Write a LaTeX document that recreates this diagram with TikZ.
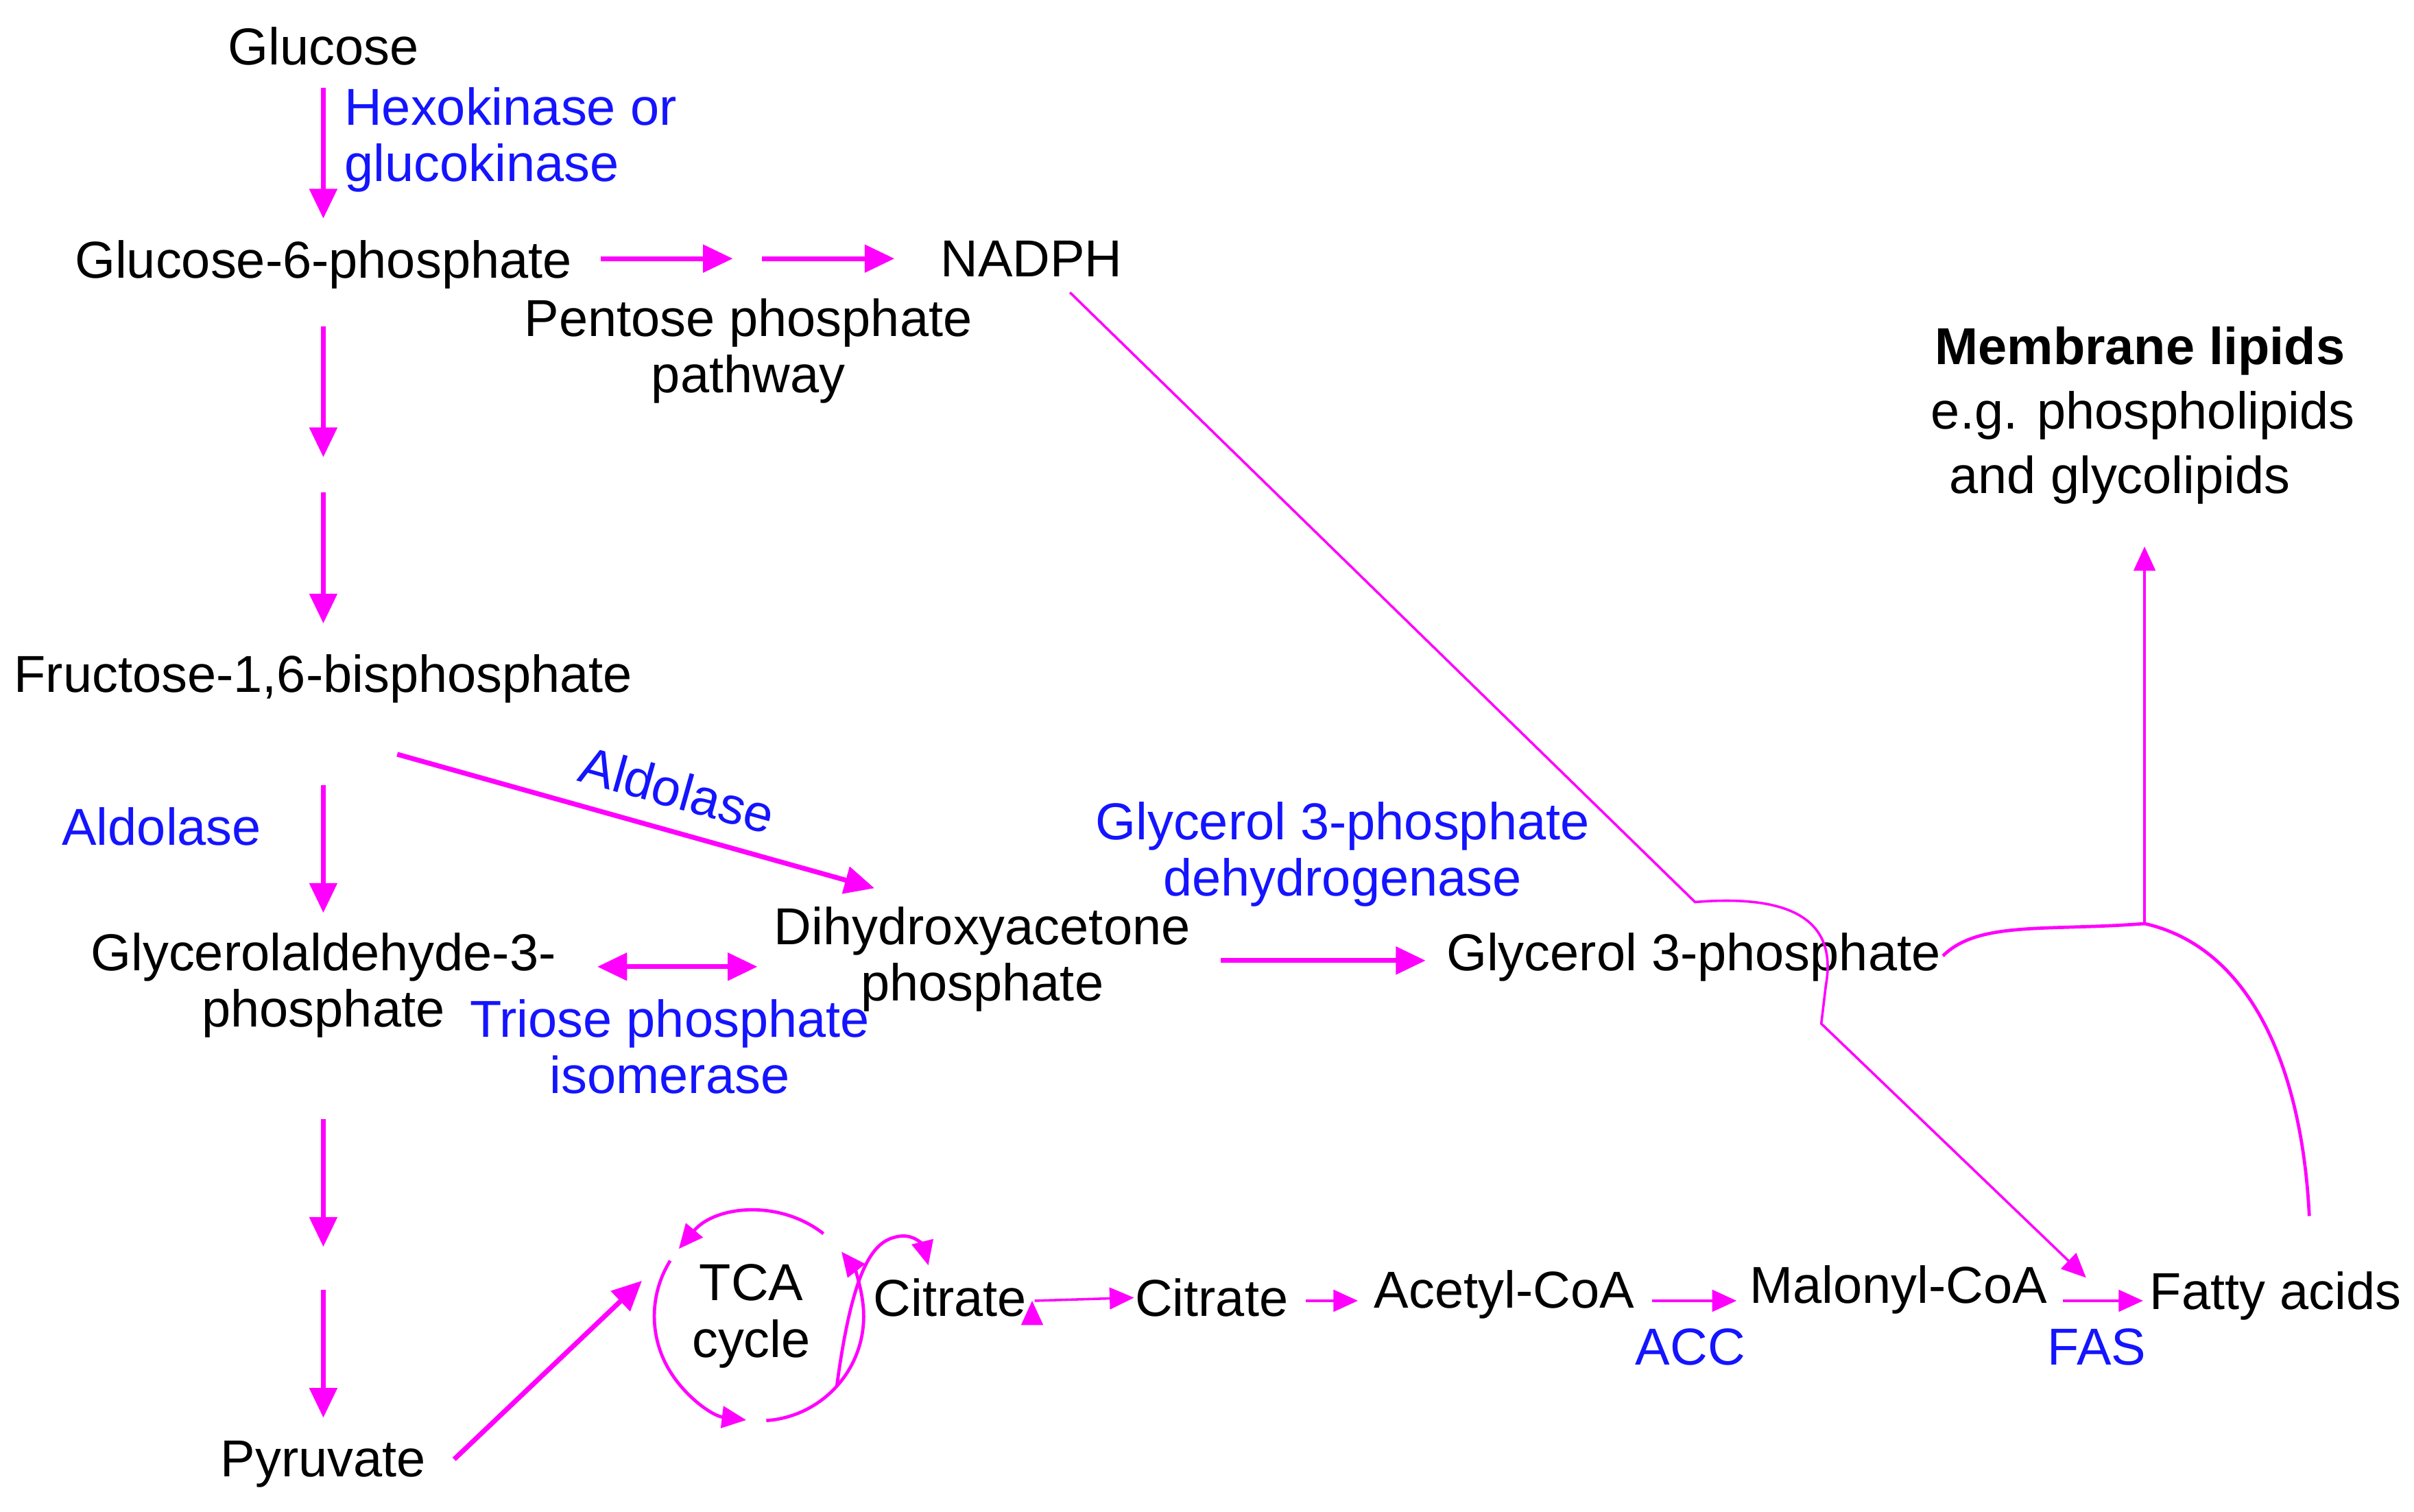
\documentclass[tikz,border=0pt]{standalone}
\usepackage{fontspec}
\setmainfont{Liberation Sans}
\usetikzlibrary{arrows.meta}
\definecolor{mag}{RGB}{255,0,255}
\definecolor{enz}{RGB}{20,20,255}
\begin{document}
\begin{tikzpicture}[x=0.01cm,y=-0.01cm,
  every node/.style={font=\fontsize{9.6}{10.4}\selectfont,inner sep=0pt},
  lbl/.style={align=center},
  enzl/.style={text=enz,align=center},
  thk/.style={draw=mag,line width=0.9pt,-{Triangle[length=5.5pt,width=5pt]}},
  thn/.style={draw=mag,line width=0.45pt,-{Triangle[length=4.5pt,width=4pt]}},
  arc/.style={draw=mag,line width=0.6pt,-{Triangle[length=4.5pt,width=4pt]}}]
\useasboundingbox (0,0) rectangle (1568,982);
% nodes
\node (glc) at (210,30) {Glucose};
\node[enzl,align=left,anchor=west] (hk) at (223,91) {Hexokinase or\\glucokinase};
\node (g6p) at (210,172) {Glucose-6-phosphate};
\node[lbl] (ppp) at (486,228) {Pentose phosphate\\pathway};
\node (nadph) at (670,168) {NADPH};
\node (f16) at (210,441) {Fructose-1,6-bisphosphate};
\node[enzl] (ald1) at (105,537) {Aldolase};
\node[enzl,rotate=-15.7] (ald2) at (440,513) {Aldolase};
\node[lbl] (gap) at (210,640) {Glycerolaldehyde-3-\\phosphate};
\node[lbl] (dhap) at (638,623) {Dihydroxyacetone\\phosphate};
\node[enzl] (tpi) at (435,680) {Triose phosphate\\isomerase};
\node[enzl] (g3pdh) at (872,555) {Glycerol 3-phosphate\\dehydrogenase};
\node (g3p) at (1100,622) {Glycerol 3-phosphate};
\node[font=\fontsize{9.6}{10.4}\selectfont\bfseries] (ml) at (1390,228) {Membrane lipids};
\node (eg1) at (1392,270) {e.g. phospholipids};
\node (eg2) at (1377,312) {and glycolipids};
\node (pyr) at (210,951) {Pyruvate};
\node[lbl] (tca) at (488,855) {TCA\\cycle};
\node (cit1) at (617,843) {Citrate};
\node (cit2) at (787,843) {Citrate};
\node (acoa) at (977,841) {Acetyl-CoA};
\node[enzl] (acc) at (1098,875) {ACC};
\node (mcoa) at (1233,838) {Malonyl-CoA};
\node[enzl] (fas) at (1362,875) {FAS};
\node (fa) at (1478,842) {Fatty acids};
% coordinates
\coordinate (a1) at (210,57); \coordinate (a2) at (210,142);
\coordinate (b1) at (210,212); \coordinate (b2) at (210,297);
\coordinate (b3) at (210,320); \coordinate (b4) at (210,405);
\coordinate (c1) at (210,510); \coordinate (c2) at (210,593);
\coordinate (d1) at (210,727); \coordinate (d2) at (210,810);
\coordinate (d3) at (210,838); \coordinate (d4) at (210,921);
\coordinate (p1) at (390,168); \coordinate (p2) at (476,168);
\coordinate (p3) at (495,168); \coordinate (p4) at (581,168);
\coordinate (al1) at (258,490); \coordinate (al2) at (568,577);
\coordinate (t1) at (388,628); \coordinate (t2) at (492,628);
\coordinate (g1) at (793,624); \coordinate (g2) at (926,624);
\coordinate (py1) at (295,948); \coordinate (py2) at (417,832);
\coordinate (n0) at (695,190); \coordinate (n1) at (1101,586);
\coordinate (n2) at (1183,665); \coordinate (n3) at (1355,830);
\coordinate (j) at (1393,600); \coordinate (up) at (1393,355);
\coordinate (gl) at (1262,621); \coordinate (fb) at (1500,790);
\coordinate (tc) at (493,855);
% vertical arrows
\draw[thk] (a1) -- (a2);
\draw[thk] (b1) -- (b2);
\draw[thk] (b3) -- (b4);
\draw[thk] (c1) -- (c2);
\draw[thk] (d1) -- (d2);
\draw[thk] (d3) -- (d4);
\draw[thk] (p1) -- (p2);
\draw[thk] (p3) -- (p4);
\draw[thk] (al1) -- (al2);
\draw[draw=mag,line width=0.9pt,{Triangle[length=5.5pt,width=5pt]}-{Triangle[length=5.5pt,width=5pt]}] (t1) -- (t2);
\draw[thk] (g1) -- (g2);
\draw[thk] (py1) -- (py2);
% NADPH line
\draw[thn] (n0) -- (n1) .. controls (1150,582) and (1195,590) .. (1186,640) -- (n2) -- (n3);
% lipids
\draw[draw=mag,line width=0.6pt] (gl) .. controls (1285,598) and (1330,605) .. (j);
\draw[draw=mag,line width=0.6pt] (fb) .. controls (1495,690) and (1460,615) .. (j);
\draw[thn] (j) -- (up);
% bottom row
\draw[thn] (cit1.east) ++(3,2) coordinate (e1);
\draw[thn] (672,845) -- (cit2.west);
\draw[thn] (848,845) -- (882,845);
\draw[thn] (1073,845) -- (1128,845);
\draw[thn] (1340,845) -- (1392,845);
% TCA circle
\draw[arc] (tc) ++(212:68) arc[start angle=212,end angle=97,radius=68];
\draw[arc] (tc) ++(86:68) arc[start angle=86,end angle=-38,radius=68];
\draw[arc] (tc) ++(-52:68) arc[start angle=-52,end angle=-140,radius=68];
\draw[arc] (tc) ++(42:68) .. controls (555,815) and (570,805) .. (585,803) .. controls (595,802) and (600,810) .. (603,822);
\end{tikzpicture}
\end{document}
